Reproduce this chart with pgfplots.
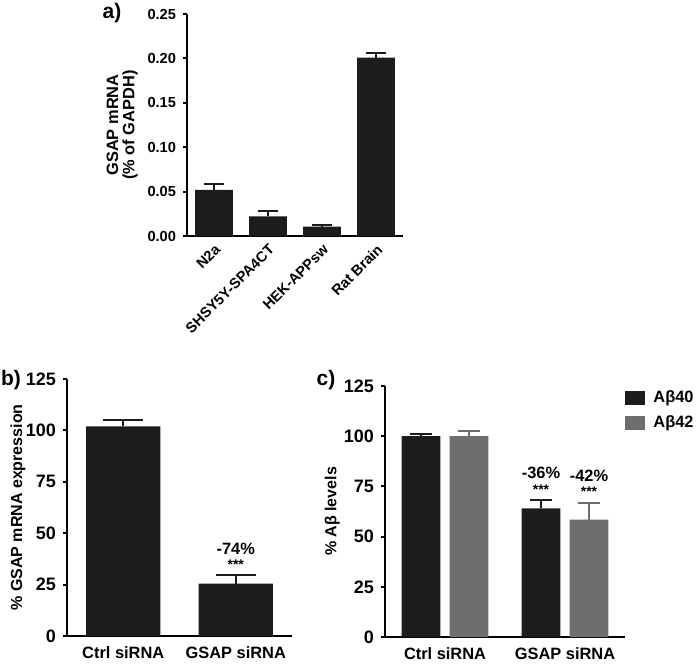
\documentclass[border=0pt]{standalone}
\usepackage{pgfplots}
\pgfplotsset{compat=1.18}
\usepackage{fontspec}
\setmainfont{Liberation Sans}
\definecolor{barblack}{HTML}{1C1C1C}
\definecolor{bargray}{HTML}{6E6E6E}
\newcommand{\fs}[1]{\bfseries\fontsize{#1}{#1}\selectfont}
\pgfplotsset{
  gp/.style={
    scale only axis,
    axis lines*=left,
    axis line style={line width=1pt, black},
    tick align=outside,
    major tick length=2pt,
    ytick style={line width=1pt, black},
    xtick style={draw=none},
    ymin=0,
    ybar,
    clip=false,
    /pgf/number format/assume math mode=true,
  },
}
\begin{document}
\begin{tikzpicture}
\path[use as bounding box] (0,0) rectangle (350pt,-331.5pt);

% ---------- panel a ----------
\begin{axis}[gp,
  at={(93.5pt,-118pt)}, anchor=south west,
  width=108pt, height=111pt,
  xmin=-0.5, xmax=3.5, ymax=0.25,
  xtick={0,1,2,3},
  xticklabels={N2a, SHSY5Y-SPA4CT, HEK-APPsw, Rat Brain},
  xticklabel style={rotate=45, anchor=north east, font=\fs{7.3}, inner sep=1pt},
  ytick={0,0.05,0.1,0.15,0.2,0.25},
  yticklabel style={font=\fs{7.3}, /pgf/number format/.cd, fixed, fixed zerofill, precision=2},
  ylabel={GSAP mRNA\\(\% of GAPDH)},
  ylabel style={font=\fs{8.2}, align=center, at={(axis description cs:-0.3,0.5)}, anchor=center},
  bar width=0.7,
]
\addplot[fill=barblack, draw=none,
  error bars/.cd, y dir=plus, y explicit,
  error bar style={draw=barblack, line width=1pt},
  error mark options={rotate=90, draw=barblack, line width=1pt, mark size=5pt}]
  coordinates {(0,0.052) +- (0,0.007) (1,0.022) +- (0,0.0065) (2,0.0105) +- (0,0.0015) (3,0.201) +- (0,0.005)};
\end{axis}

% ---------- panel b ----------
\begin{axis}[gp,
  at={(33.5pt,-318pt)}, anchor=south west,
  width=112.5pt, height=128.5pt,
  xmin=-0.5, xmax=1.5, ymax=125,
  xtick={0,1},
  xticklabels={Ctrl siRNA, GSAP siRNA},
  xticklabel style={font=\fs{8.2}},
  ytick={0,25,50,75,100,125},
  yticklabel style={font=\fs{9}},
  ylabel={\% GSAP mRNA expression},
  ylabel style={font=\fs{8}, at={(axis description cs:-0.218,0.5)}, anchor=center},
  bar width=0.66,
]
\addplot[fill=barblack, draw=none,
  error bars/.cd, y dir=plus, y explicit,
  error bar style={draw=barblack, line width=1pt},
  error mark options={rotate=90, draw=barblack, line width=1pt, mark size=10pt}]
  coordinates {(0,102) +- (0,3) (1,25.5) +- (0,4)};
\node[font=\fs{8.2}] at (axis cs:1,42.3) {-74\%};
\node[font=\fs{7}] at (axis cs:1,34.5) {***};
\end{axis}

% ---------- panel c ----------
\begin{axis}[gp,
  at={(192.5pt,-318.5pt)}, anchor=south west,
  width=120pt, height=125.5pt,
  xmin=-0.5, xmax=1.5, ymax=125,
  xtick={0,1},
  xticklabels={Ctrl siRNA, GSAP siRNA},
  xticklabel style={font=\fs{8.2}},
  ytick={0,25,50,75,100,125},
  yticklabel style={font=\fs{9}},
  ylabel={\% Aβ levels},
  ylabel style={font=\fs{8}, at={(axis description cs:-0.22,0.5)}, anchor=center},
  bar width=0.324,
  legend style={draw=none, fill=none, at={(axis description cs:1.0,0.99)}, anchor=north west,
    inner sep=0pt, font=\fs{8.2}, row sep=3pt,
    nodes={inner sep=1pt}},
  legend cell align=left,
  legend image code/.code={\fill[#1] (0pt,-3.5pt) rectangle (10pt,3.5pt);},
]
\addplot[fill=barblack, draw=none, bar shift=-0.2,
  error bars/.cd, y dir=plus, y explicit,
  error bar style={draw=barblack, line width=1pt},
  error mark options={rotate=90, draw=barblack, line width=1pt, mark size=5.5pt}]
  coordinates {(0,100) +- (0,1.2) (1,64) +- (0,4.2)};
\addlegendentry{\hspace{3pt}Aβ40}
\addplot[fill=bargray, draw=none, bar shift=0.2,
  error bars/.cd, y dir=plus, y explicit,
  error bar style={draw=bargray, line width=1pt},
  error mark options={rotate=90, draw=bargray, line width=1pt, mark size=5.5pt}]
  coordinates {(0,100) +- (0,2.5) (1,58.5) +- (0,8.4)};
\addlegendentry{\hspace{3pt}Aβ42}
\node[font=\fs{8.2}] at (axis cs:0.8,81.5) {-36\%};
\node[font=\fs{7}] at (axis cs:0.8,73.3) {***};
\node[font=\fs{8.2}] at (axis cs:1.2,80.5) {-42\%};
\node[font=\fs{7}] at (axis cs:1.2,72.3) {***};
\end{axis}

% panel letters
\node[font=\fs{10.5}] at (56pt,-6.5pt) {a)};
\node[font=\fs{10.5}] at (5.5pt,-190pt) {b)};
\node[font=\fs{10.5}] at (163pt,-190pt) {c)};
\end{tikzpicture}
\end{document}
